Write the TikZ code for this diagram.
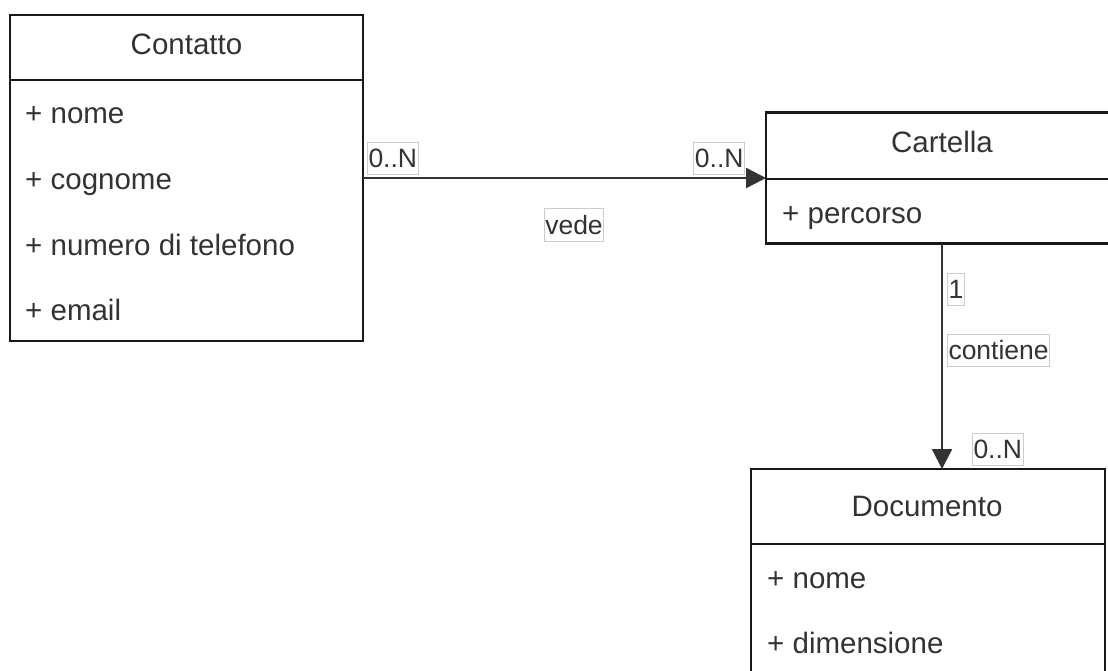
\documentclass[tikz,border=0pt]{standalone}
\usepackage{fontspec}
\setmainfont{Liberation Sans}
\usetikzlibrary{arrows.meta}
\definecolor{ink}{HTML}{333333}
\tikzset{
  classbox/.style={draw=black!90, line width=2.4pt, fill=white, inner sep=0pt, outer sep=0pt},
  classtitle/.style={text=ink, font=\fontsize{29.5}{34}\selectfont, anchor=base, inner sep=0pt},
  attr/.style={text=ink, font=\fontsize{29.5}{34}\selectfont, anchor=base west, inner sep=0pt},
  divider/.style={draw=black!90, line width=2.4pt},
  assoc/.style={draw=black!80, line width=2.4pt, -{Triangle[length=20pt,width=20pt]}},
  mult/.style={text=ink, font=\fontsize{26.5}{30}\selectfont, draw=gray!40, line width=1pt,
    fill=white, inner xsep=1pt, inner ysep=2pt, text height=23pt, text depth=5pt}
}
\begin{document}
\begin{tikzpicture}[x=1pt,y=-1pt]
\useasboundingbox (0,0) rectangle (1108,671);
\clip (0,0) rectangle (1108,671);

% class Contatto
\node[classbox, minimum width=353pt, minimum height=326pt] (contatto) at (186.5,178) {};
\draw[divider] (contatto.west |- 0,80) -- (contatto.east |- 0,80);
\node[classtitle] (contattoT) at (186.5,55) {Contatto};
\node[attr] (cNome) at (25,124) {+ nome};
\node[attr] (cCognome) at (25,190) {+ cognome};
\node[attr] (cTel) at (25,255) {+ numero di telefono};
\node[attr] (cEmail) at (25,320) {+ email};

% class Cartella
\node[classbox, minimum width=352pt, minimum height=131pt] (cartella) at (942,178) {};
\draw[divider] (cartella.west |- 0,179) -- (cartella.east |- 0,179);
\node[classtitle] (cartellaT) at (942,153) {Cartella};
\node[attr] (kPercorso) at (782,223) {+ percorso};

% class Documento
\node[classbox, anchor=north, minimum width=354pt, minimum height=260pt] (documento) at (928,469) {};
\draw[divider] (documento.west |- 0,544) -- (documento.east |- 0,544);
\node[classtitle] (documentoT) at (927,516) {Documento};
\node[attr] (dNome) at (767,588) {+ nome};
\node[attr] (dDim) at (767,653) {+ dimensione};

% association: Contatto vede Cartella
\draw[assoc] (contatto.east) -- (cartella.west)
  node[mult, pos=0, anchor=south west, xshift=4pt, yshift=3pt] (m1) {0..N}
  node[mult, pos=1, anchor=south east, xshift=-21pt, yshift=3pt] (m2) {0..N};
\node[mult] (vede) at (574,225) {vede};

% association: Cartella contiene Documento
\draw[assoc] (cartella.south) -- (cartella.south |- documento.north)
  node[mult, pos=0, anchor=north west, xshift=5pt, yshift=-29pt] (m3) {1}
  node[mult, pos=0, anchor=north west, xshift=5pt, yshift=-90pt] (contiene) {contiene}
  node[mult, pos=1, anchor=south west, xshift=30pt, yshift=3pt] (m4) {0..N};
\end{tikzpicture}
\end{document}
